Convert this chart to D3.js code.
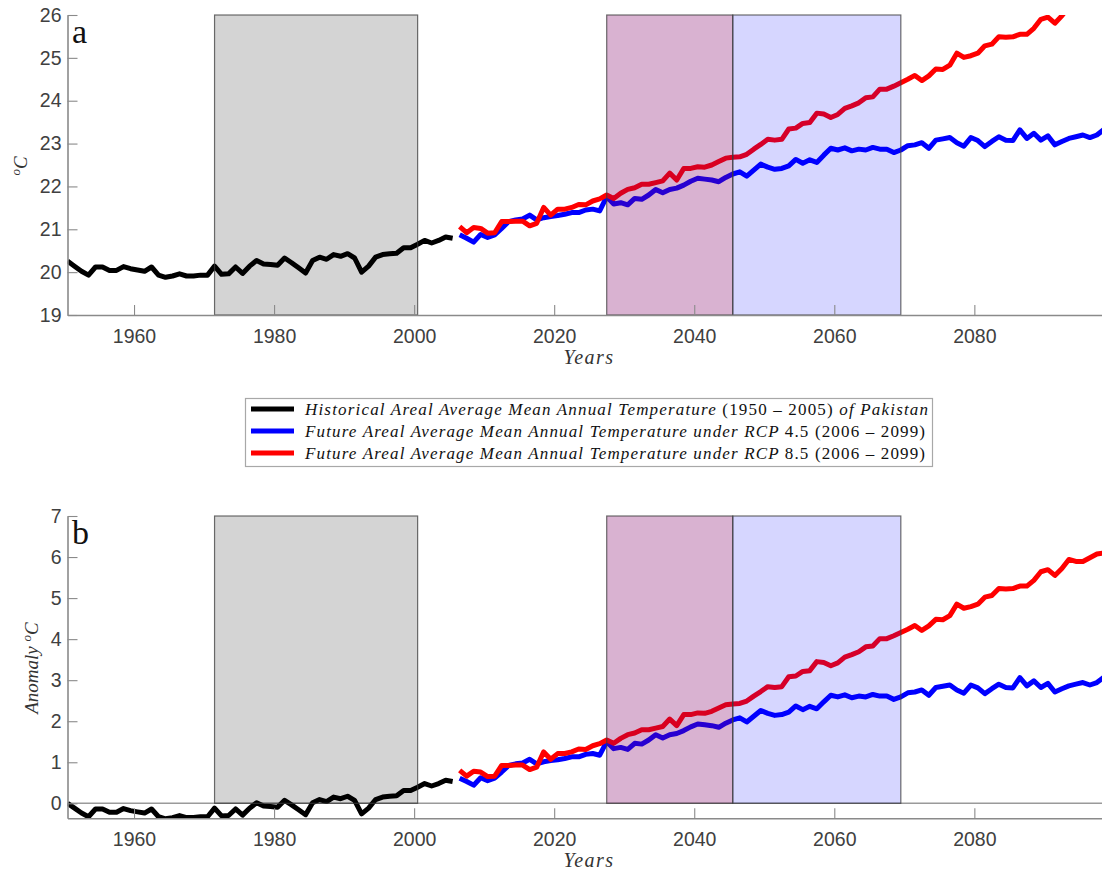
<!DOCTYPE html>
<html>
<head>
<meta charset="utf-8">
<script src="https://cdn.jsdelivr.net/npm/d3@7"></script>
<style>
  html, body { margin: 0; padding: 0; background: #fff; }
  svg { display: block; }
</style>
</head>
<body>
<script>
// Areal average mean annual temperature of Pakistan, historical and projected (°C)
const histYears = d3.range(1950, 2006);
const histTemp = [
  20.26, 20.14, 20.02, 19.93, 20.12, 20.12, 20.04, 20.04, 20.13, 20.08,
  20.05, 20.02, 20.12, 19.93, 19.88, 19.91, 19.96, 19.91, 19.91, 19.93,
  19.93, 20.14, 19.95, 19.96, 20.12, 19.97, 20.14, 20.27, 20.19, 20.18,
  20.16, 20.33, 20.22, 20.10, 19.98, 20.27, 20.35, 20.30, 20.41, 20.37,
  20.43, 20.33, 20.00, 20.14, 20.35, 20.41, 20.43, 20.44, 20.57, 20.57,
  20.65, 20.74, 20.68, 20.74, 20.82, 20.79
];

const futureYears = d3.range(2006, 2100);
const rcp45Temp = [
  20.87, 20.79, 20.70, 20.88, 20.81, 20.87, 21.02, 21.18, 21.22, 21.24,
  21.33, 21.22, 21.27, 21.30, 21.32, 21.35, 21.39, 21.39, 21.45, 21.47,
  21.43, 21.76, 21.59, 21.62, 21.57, 21.72, 21.70, 21.80, 21.93, 21.85,
  21.93, 21.96, 22.03, 22.12, 22.19, 22.17, 22.15, 22.11, 22.21, 22.29,
  22.34, 22.24, 22.38, 22.52, 22.45, 22.40, 22.42, 22.48, 22.63, 22.54,
  22.62, 22.56, 22.73, 22.89, 22.85, 22.90, 22.83, 22.87, 22.85, 22.91,
  22.87, 22.87, 22.79, 22.85, 22.95, 22.97, 23.02, 22.89, 23.08, 23.11,
  23.14, 23.02, 22.94, 23.14, 23.07, 22.93, 23.05, 23.16, 23.08, 23.07,
  23.32, 23.12, 23.24, 23.08, 23.18, 22.97, 23.05, 23.12, 23.16, 23.20,
  23.14, 23.20, 23.33, 23.45
];
const rcp85Temp = [
  21.06, 20.92, 21.04, 21.02, 20.91, 20.92, 21.18, 21.18, 21.19, 21.19,
  21.08, 21.14, 21.51, 21.33, 21.47, 21.47, 21.51, 21.58, 21.57, 21.66,
  21.71, 21.80, 21.72, 21.84, 21.93, 21.97, 22.05, 22.05, 22.09, 22.13,
  22.31, 22.15, 22.42, 22.42, 22.46, 22.45, 22.50, 22.58, 22.66, 22.68,
  22.69, 22.75, 22.87, 22.98, 23.10, 23.08, 23.10, 23.34, 23.36, 23.47,
  23.49, 23.71, 23.69, 23.61, 23.68, 23.82, 23.88, 23.95, 24.07, 24.09,
  24.27, 24.27, 24.34, 24.42, 24.50, 24.59, 24.47, 24.58, 24.74, 24.73,
  24.83, 25.11, 25.01, 25.05, 25.11, 25.28, 25.32, 25.49, 25.48, 25.49,
  25.55, 25.55, 25.69, 25.90, 25.95, 25.81, 25.98, 26.20, 26.15, 26.15,
  26.24, 26.33, 26.36, 26.40
];

// Shaded periods: baseline, near future, mid-century
const periods = [
  { from: 1971, to: 2000, fill: "rgba(0,0,0,0.17)" },
  { from: 2027, to: 2045, fill: "rgba(128,0,102,0.30)" },
  { from: 2045, to: 2069, fill: "rgba(0,0,255,0.16)" }
];

const xTicks = [1960, 1980, 2000, 2020, 2040, 2060, 2080];
const tempTicks = [19, 20, 21, 22, 23, 24, 25, 26];
const anomTicks = [0, 1, 2, 3, 4, 5, 6, 7];

const legendLabels = [
  [["Historical Areal Average Mean Annual Temperature ", "i"], ["(1950 \u2013 2005)", "n"], [" of Pakistan", "i"]],
  [["Future Areal Average Mean Annual Temperature under RCP ", "i"], ["4.5 (2006 \u2013 2099)", "n"]],
  [["Future Areal Average Mean Annual Temperature under RCP ", "i"], ["8.5 (2006 \u2013 2099)", "n"]]
];
const seriesColors = ["#000000", "#0000ff", "#ff0000"];

// Anomalies relative to the 1971–2000 baseline mean
const baseline = d3.mean(histTemp.filter((v, i) => histYears[i] >= 1971 && histYears[i] <= 2000));
const histAnom = histTemp.map(v => v - baseline);
const rcp45Anom = rcp45Temp.map(v => v - baseline);
const rcp85Anom = rcp85Temp.map(v => v - baseline);

const W = 1102, H = 872;
const svg = d3.select("body").append("svg").attr("width", W).attr("height", H);

const SANS = "'Liberation Sans', Arial, sans-serif";
const SERIF = "'Liberation Serif', 'Times New Roman', serif";
const AXIS_GREY = "#8a8a8a";

// annual values sit at mid-year
const x = d3.scaleLinear().domain([1950.5, 2099.5]).range([67.5, 1110.9]);
const xAt = yr => x(yr + 0.5);

function drawPanel(cfg) {
  const y = d3.scaleLinear().domain(cfg.yDomain).range(cfg.yRange);
  const g = svg.append("g");
  const top = cfg.yRange[1], bottom = cfg.yRange[0];
  const clipId = "clip-" + cfg.id;
  svg.append("clipPath").attr("id", clipId)
    .append("rect").attr("x", 67.5).attr("y", top).attr("width", W - 67.5).attr("height", bottom - top);

  // zero reference line
  if (cfg.zeroLine) {
    g.append("line")
      .attr("x1", 67.5).attr("x2", W).attr("y1", y(0)).attr("y2", y(0))
      .attr("stroke", "#9a9a9a").attr("stroke-width", 1.5);
  }

  const line = d3.line().x(d => xAt(d[0])).y(d => y(d[1])).curve(d3.curveLinear);
  const series = [
    [histYears, cfg.hist, seriesColors[0]],
    [futureYears, cfg.r45, seriesColors[1]],
    [futureYears, cfg.r85, seriesColors[2]]
  ];
  const lines = g.append("g").attr("clip-path", `url(#${clipId})`);
  series.forEach(([yrs, vals, col]) => {
    lines.append("path")
      .datum(yrs.map((yr, i) => [yr, vals[i]]))
      .attr("d", line)
      .attr("fill", "none")
      .attr("stroke", col)
      .attr("stroke-width", 5)
      .attr("stroke-linejoin", "round")
      .attr("stroke-linecap", "butt");
  });

  // shaded periods over the lines
  const [y0, y1] = cfg.shadeRange;
  g.append("g").selectAll("rect").data(periods).join("rect")
    .attr("x", d => xAt(d.from))
    .attr("width", d => xAt(d.to) - xAt(d.from))
    .attr("y", y(y1))
    .attr("height", y(y0) - y(y1))
    .attr("fill", d => d.fill)
    .attr("stroke", "rgba(60,60,60,0.75)")
    .attr("stroke-width", 1.2);

  // axes
  const xAxis = d3.axisBottom(x).tickValues(xTicks).tickFormat(d3.format("d"))
    .tickSizeInner(-10).tickSizeOuter(0).tickPadding(14);
  const gx = g.append("g").attr("transform", `translate(0,${bottom})`).call(xAxis);
  const yAxis = d3.axisLeft(y).tickValues(cfg.ticks).tickFormat(d3.format("d"))
    .tickSizeInner(-10).tickSizeOuter(0).tickPadding(6);
  const gy = g.append("g").attr("transform", "translate(67.5,0)").call(yAxis);
  [gx, gy].forEach(a => {
    a.select(".domain").attr("stroke", AXIS_GREY).attr("stroke-width", 1.6);
    a.selectAll(".tick line").attr("stroke", AXIS_GREY).attr("stroke-width", 1.1);
    a.selectAll(".tick text").attr("fill", "#404040").style("font-family", SANS).style("font-size", "19.5px");
  });

  // panel letter
  svg.append("text").attr("x", 72).attr("y", top + 28)
    .style("font-family", SERIF).style("font-size", "34px").attr("fill", "#111")
    .text(cfg.letter);

  // axis titles
  svg.append("text").attr("x", 589).attr("y", bottom + 49)
    .attr("text-anchor", "middle")
    .style("font-family", SERIF).style("font-style", "italic").style("font-size", "20px")
    .style("letter-spacing", "1.5px").attr("fill", "#333")
    .text("Years");

  const yt = svg.append("text")
    .attr("transform", `translate(${cfg.yTitleX},${cfg.yTitleY}) rotate(-90)`)
    .attr("text-anchor", "middle")
    .style("font-family", SERIF).style("font-style", "italic").style("font-size", "19px")
    .attr("fill", "#333");
  if (cfg.yTitleText) yt.append("tspan").text(cfg.yTitleText + " ");
  yt.append("tspan").attr("dy", -7).style("font-size", "13px").text("o");
  yt.append("tspan").attr("dy", 7).text("C");
}

drawPanel({
  id: "a", letter: "a",
  yDomain: [19, 26], yRange: [315, 15], ticks: tempTicks,
  shadeRange: [19, 26],
  hist: histTemp, r45: rcp45Temp, r85: rcp85Temp,
  yTitleX: 27, yTitleY: 166, yTitleText: ""
});

drawPanel({
  id: "b", letter: "b",
  yDomain: [-0.365, 7], yRange: [818.3, 516], ticks: anomTicks,
  shadeRange: [0, 7], zeroLine: true,
  hist: histAnom, r45: rcp45Anom, r85: rcp85Anom,
  yTitleX: 38, yTitleY: 668, yTitleText: "Anomaly"
});

// legend
const leg = svg.append("g");
leg.append("rect").attr("x", 245.5).attr("y", 398.5).attr("width", 687).attr("height", 68)
  .attr("fill", "#fff").attr("stroke", "#a8a8a8").attr("stroke-width", 1.2);
const rowY = [409, 431, 453];
const textEnds = [928, 925, 925];
legendLabels.forEach((parts, i) => {
  leg.append("line").attr("x1", 251).attr("x2", 294).attr("y1", rowY[i]).attr("y2", rowY[i])
    .attr("stroke", seriesColors[i]).attr("stroke-width", 5);
  const t = leg.append("text").attr("x", 305).attr("y", rowY[i] + 5.5)
    .attr("textLength", textEnds[i] - 305).attr("lengthAdjust", "spacing")
    .style("font-family", SERIF).style("font-size", "17px").attr("fill", "#111");
  parts.forEach(([s, st]) => {
    t.append("tspan").style("font-style", st === "i" ? "italic" : "normal").text(s);
  });
});
</script>
</body>
</html>
